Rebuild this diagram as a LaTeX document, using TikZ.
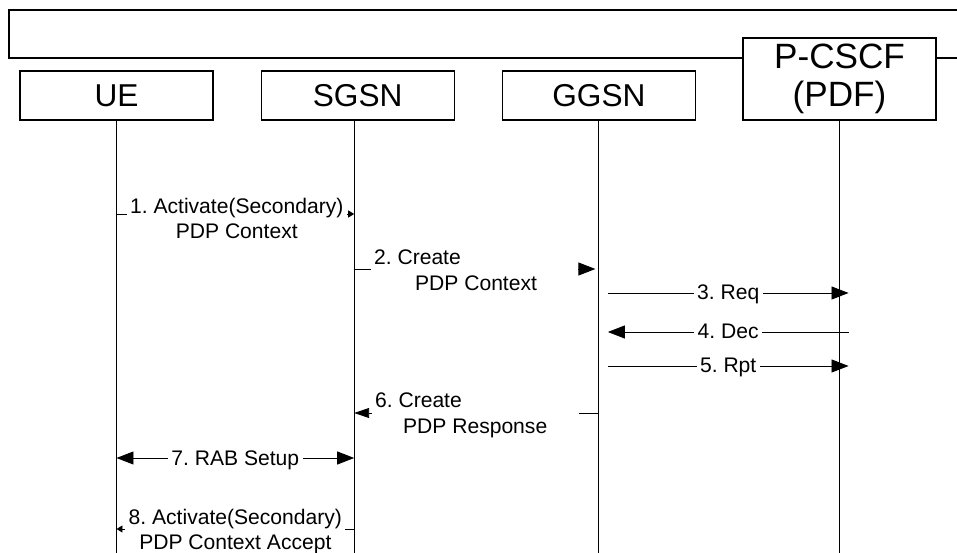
\documentclass[tikz,border=0pt]{standalone}
\usepackage{fontspec}
\setmainfont{Liberation Sans}
\usetikzlibrary{positioning,arrows.meta}
\frenchspacing

\begin{document}
\begin{tikzpicture}[x=0.02cm,y=-0.02cm,
    entity/.style={draw,fill=white,line width=0.7pt,minimum width=3.86cm,minimum height=0.98cm,inner sep=0pt,font=\fontsize{18}{21}\selectfont},
    life/.style={line width=0.7pt},
    msg/.style={line width=0.5pt},
    lbl/.style={fill=white,inner xsep=2pt,inner ysep=1pt,font=\fontsize{12}{14.5}\selectfont},
    note/.style={lbl,align=flush left,text width=4cm},
    tipS/.style={-{Triangle[length=0.12cm,width=0.14cm]}},
    tipM/.style={-{Triangle[length=0.3cm,width=0.2cm]}},
    tipL/.style={-{Triangle[length=0.34cm,width=0.26cm]}},
    tipLL/.style={{Triangle[length=0.34cm,width=0.26cm]}-{Triangle[length=0.34cm,width=0.26cm]}}]
    \useasboundingbox (0,0) rectangle (957,553);
    \clip (0,0) rectangle (957,553);
    \draw[line width=0.7pt] (970,10) -- (9,10) -- (9,58) -- (970,58);

    \node[entity] (ue) at (116.5,95.5) {UE};
    \node[entity] (sgsn) [right=0.94cm of ue] {SGSN};
    \node[entity] (ggsn) [right=0.94cm of sgsn] {GGSN};
    \node[entity,minimum height=1.64cm,align=center,font=\fontsize{20}{22}\selectfont] (pcscf) [right=0.93cm of ggsn.south east,anchor=south west] {P-CSCF\\(PDF)};

    \coordinate (bot) at (0,553);
    \coordinate (sgsnL) at ([xshift=-0.07cm]sgsn.south);
    \draw[life] (ue.south) -- (ue.south |- bot);
    \draw[life] (sgsnL) -- (sgsnL |- bot);
    \draw[life] (ggsn.south) -- (ggsn.south |- bot);
    \draw[life] (pcscf.south) -- (pcscf.south |- bot);

    \foreach \n/\y in {1/214,2/269,3/293,4/332,5/366,6/413,7/458,8/529}
        \coordinate (m\n) at (0,\y);

    \draw[msg,tipS] (ue |- m1) -- (sgsnL |- m1)
        node[lbl,align=center,pos=0.506,anchor=base,yshift=-0.49cm] (l1) {1. Activate(Secondary)\\PDP Context};
    \draw[msg,tipL] (sgsnL |- m2) -- ([xshift=-0.07cm]ggsn |- m2)
        node[note,pos=0,anchor=base west,xshift=0.32cm,yshift=0.08cm] (l2) {2. Create\\\hspace*{0.82cm}PDP Context};
    \draw[msg,tipL] ([xshift=0.18cm]ggsn |- m3) -- ([xshift=0.18cm]pcscf |- m3)
        node[lbl,midway,anchor=base,yshift=-0.14cm] (l3) {3. Req};
    \draw[msg,tipL] ([xshift=0.18cm]pcscf |- m4) -- ([xshift=0.18cm]ggsn |- m4)
        node[lbl,midway,anchor=base,yshift=-0.14cm] (l4) {4. Dec};
    \draw[msg,tipL] ([xshift=0.18cm]ggsn |- m5) -- ([xshift=0.18cm]pcscf |- m5)
        node[lbl,midway,anchor=base,yshift=-0.14cm] (l5) {5. Rpt};
    \draw[msg,tipM] (ggsn |- m6) -- (sgsnL |- m6)
        node[note,pos=1,anchor=base west,xshift=0.34cm,yshift=0.1cm] (l6) {6. Create\\\hspace*{0.56cm}PDP Response};
    \draw[msg,tipLL] (ue |- m7) -- (sgsnL |- m7)
        node[lbl,midway,anchor=base,yshift=-0.16cm] (l7) {7. RAB Setup};
    \draw[msg,tipS] (sgsnL |- m8) -- (ue |- m8)
        node[lbl,align=center,midway,anchor=base,yshift=-0.41cm] (l8) {8. Activate(Secondary)\\PDP Context Accept};
\end{tikzpicture}
\end{document}
